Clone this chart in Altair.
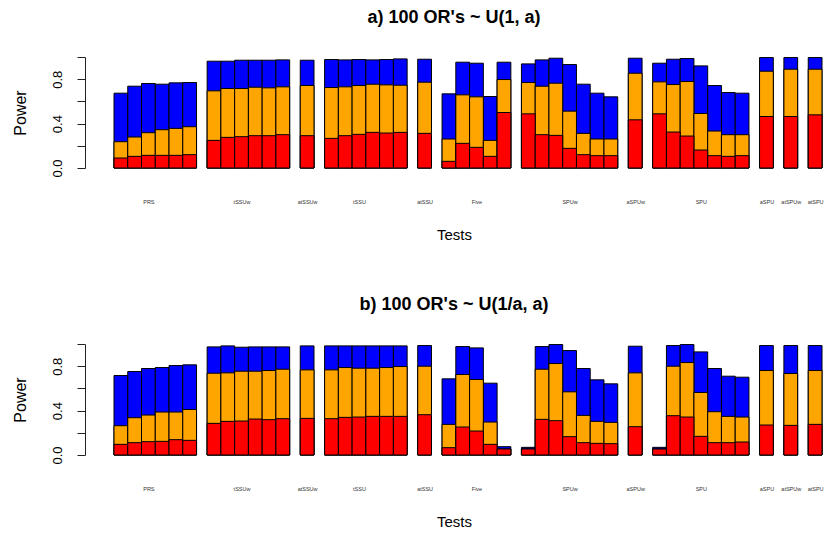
import altair as alt
import pandas as pd

groups = ["PRS", "tSSUw", "atSSUw", "tSSU", "atSSU", "Five", "SPUw", "aSPUw", "SPU", "aSPU", "atSPUw", "atSPU"]

# Panel a) 100 OR's ~ U(1, a)
a_red = [
    [0.090, 0.105, 0.114, 0.114, 0.114, 0.120],
    [0.249, 0.276, 0.282, 0.291, 0.291, 0.300],
    [0.291],
    [0.267, 0.291, 0.303, 0.321, 0.315, 0.321],
    [0.312],
    [0.060, 0.222, 0.186, 0.105, 0.500],
    [0.488, 0.300, 0.294, 0.177, 0.120, 0.111, 0.111],
    [0.434],
    [0.488, 0.324, 0.288, 0.162, 0.111, 0.105, 0.111],
    [0.464],
    [0.464],
    [0.479],
]
a_orange = [
    [0.237, 0.279, 0.318, 0.345, 0.357, 0.372],
    [0.695, 0.716, 0.716, 0.728, 0.722, 0.731],
    [0.743],
    [0.725, 0.731, 0.743, 0.755, 0.749, 0.746],
    [0.773],
    [0.261, 0.659, 0.641, 0.249, 0.797],
    [0.770, 0.737, 0.764, 0.512, 0.312, 0.261, 0.261],
    [0.854],
    [0.776, 0.752, 0.779, 0.491, 0.333, 0.300, 0.300],
    [0.872],
    [0.890],
    [0.890],
]
a_blue = [
    [0.674, 0.737, 0.761, 0.755, 0.767, 0.770],
    [0.962, 0.962, 0.971, 0.971, 0.971, 0.974],
    [0.971],
    [0.977, 0.974, 0.977, 0.974, 0.977, 0.983],
    [0.980],
    [0.668, 0.953, 0.944, 0.644, 0.953],
    [0.938, 0.974, 0.989, 0.932, 0.755, 0.674, 0.641],
    [0.989],
    [0.944, 0.980, 0.986, 0.920, 0.743, 0.680, 0.674],
    [0.995],
    [0.995],
    [0.995],
]

# Panel b) 100 OR's ~ U(1/a, a)
b_red = [
    [0.096, 0.111, 0.120, 0.123, 0.138, 0.132],
    [0.285, 0.303, 0.306, 0.324, 0.318, 0.327],
    [0.330],
    [0.327, 0.339, 0.342, 0.348, 0.348, 0.348],
    [0.363],
    [0.066, 0.252, 0.216, 0.096, 0.054],
    [0.054, 0.321, 0.309, 0.165, 0.111, 0.105, 0.102],
    [0.255],
    [0.054, 0.354, 0.342, 0.168, 0.111, 0.111, 0.117],
    [0.270],
    [0.267],
    [0.276],
]
b_orange = [
    [0.264, 0.336, 0.360, 0.387, 0.387, 0.410],
    [0.737, 0.740, 0.755, 0.755, 0.761, 0.773],
    [0.767],
    [0.767, 0.788, 0.782, 0.782, 0.788, 0.797],
    [0.800],
    [0.276, 0.725, 0.680, 0.297, 0.054],
    [0.054, 0.773, 0.824, 0.569, 0.357, 0.303, 0.294],
    [0.740],
    [0.054, 0.800, 0.833, 0.563, 0.390, 0.348, 0.342],
    [0.761],
    [0.734],
    [0.761],
]
b_blue = [
    [0.716, 0.752, 0.779, 0.788, 0.806, 0.812],
    [0.974, 0.983, 0.971, 0.974, 0.974, 0.974],
    [0.983],
    [0.983, 0.983, 0.983, 0.983, 0.983, 0.983],
    [0.986],
    [0.686, 0.977, 0.965, 0.647, 0.075],
    [0.069, 0.977, 0.995, 0.941, 0.779, 0.677, 0.641],
    [0.980],
    [0.069, 0.986, 0.995, 0.929, 0.779, 0.710, 0.701],
    [0.986],
    [0.986],
    [0.986],
]

BAR = 1.0
GAP = 0.77
FONT = "Liberation Sans"
COLORS = {"blue": "#0000FF", "orange": "#FFA500", "red": "#FF0000"}
PLOT_W = 738


def build(red, orange, blue):
    rows = []
    label_pos = []
    x = 0.0
    for gi, g in enumerate(groups):
        n = len(red[gi])
        label_pos.append(round(x + BAR * ((n - 1) // 2) + BAR / 2, 4))
        for j in range(n):
            for lvl, arr in (("blue", blue), ("orange", orange), ("red", red)):
                rows.append(dict(group=g, x=round(x, 4), x2=round(x + BAR, 4), level=lvl, value=arr[gi][j]))
            x += BAR
        x += GAP
    return pd.DataFrame(rows), label_pos, x - GAP


def panel(red, orange, blue, title):
    df, label_pos, xend = build(red, orange, blue)
    label_expr = "[" + ",".join("'%s'" % g for g in groups) + "][indexof([" + ",".join(
        repr(p) for p in label_pos) + "], datum.value)]"
    pxu = (PLOT_W - 29 - 1) / xend
    xmin = -29 / pxu
    xmax = PLOT_W / pxu + xmin
    xenc = alt.X(
        "x:Q",
        scale=alt.Scale(domain=[xmin, xmax], nice=False, zero=False, padding=0),
        axis=alt.Axis(
            values=label_pos, labelExpr=label_expr, domain=False, ticks=False, grid=False,
            labelFontSize=5.5, labelColor="#333333", labelPadding=31, labelFont=FONT,
            labelOverlap=False, labelFlush=False,
            title="Tests", titleFontSize=15, titleFont=FONT, titleFontWeight="normal",
            titlePadding=23, titleColor="black",
        ),
    )
    yenc = alt.Y(
        "value:Q",
        stack=None,
        scale=alt.Scale(domain=[0, 1], nice=False, padding=0),
        axis=alt.Axis(
            values=[0, 0.2, 0.4, 0.6, 0.8, 1.0], format=".1f",
            labelExpr="(abs(datum.value-0.2)<0.01 || abs(datum.value-0.6)<0.01 || abs(datum.value-1)<0.01) ? '' : datum.label",
            grid=False, tickSize=8, tickColor="#222222", domainColor="#222222",
            labelAngle=-90, labelAlign="center", labelBaseline="bottom",
            labelFontSize=13, labelFont=FONT, labelColor="black", labelPadding=13,
            labelOverlap=False,
            title="Power", titleFontSize=16, titleFont=FONT, titleFontWeight="normal",
            titlePadding=23, titleColor="black",
        ),
    )
    layers = []
    for lvl in ["blue", "orange", "red"]:
        layers.append(
            alt.Chart(df)
            .transform_filter(alt.datum.level == lvl)
            .mark_bar(color=COLORS[lvl], stroke="black", strokeWidth=1)
            .encode(x=xenc, x2="x2:Q", y=yenc, y2=alt.datum(0))
        )
    return alt.layer(*layers).properties(
        width=PLOT_W, height=111,
        title=alt.TitleParams(title, fontSize=18, font=FONT, fontWeight="bold", anchor="middle",
                              frame="group", offset=30, color="black"),
    )


chart = alt.vconcat(
    panel(a_red, a_orange, a_blue, "a) 100 OR's ~ U(1, a)"),
    panel(b_red, b_orange, b_blue, "b) 100 OR's ~ U(1/a, a)"),
    spacing=52,
).properties(
    padding={"left": 4, "top": 0, "right": 0, "bottom": 0}
).configure(background="white").configure_view(stroke=None)

chart.save("out.html", embed_options={"renderer": "svg", "actions": False})
